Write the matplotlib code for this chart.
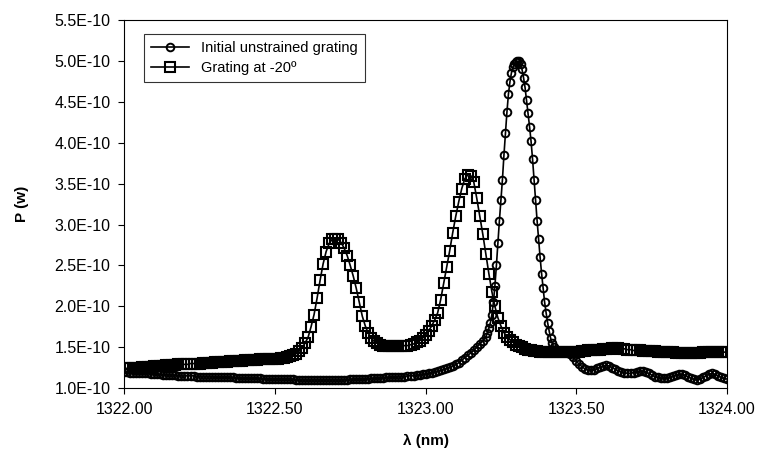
import numpy as np
import matplotlib
matplotlib.use("Agg")
import matplotlib.pyplot as plt
from matplotlib.ticker import FuncFormatter

plt.rcParams['font.family'] = ['Liberation Sans', 'DejaVu Sans']

# Power values below are in units of 1E-10 W
UNIT = 1e-10

# Grating at -20 deg, sampled every 0.01 nm from 1322.00 to 1324.00
wl_strained = np.round(np.arange(1322.00, 1324.005, 0.01), 2)
p_strained = [
    1.24, 1.24, 1.25, 1.25, 1.25, 1.25, 1.26, 1.26, 1.26, 1.26,   # 1322.00
    1.27, 1.27, 1.27, 1.27, 1.28, 1.28, 1.28, 1.28, 1.29, 1.29,   # 1322.10
    1.29, 1.29, 1.30, 1.30, 1.30, 1.30, 1.31, 1.31, 1.31, 1.31,   # 1322.20
    1.32, 1.32, 1.32, 1.32, 1.32, 1.33, 1.33, 1.33, 1.33, 1.33,   # 1322.30
    1.34, 1.34, 1.34, 1.34, 1.34, 1.35, 1.35, 1.35, 1.35, 1.36,   # 1322.40
    1.36, 1.36, 1.37, 1.37, 1.38, 1.39, 1.40, 1.42, 1.45, 1.49,   # 1322.50
    1.55, 1.62, 1.75, 1.90, 2.10, 2.32, 2.52, 2.67, 2.77, 2.82,   # 1322.60
    2.83, 2.82, 2.78, 2.71, 2.62, 2.50, 2.37, 2.22, 2.05, 1.88,   # 1322.70
    1.76, 1.67, 1.61, 1.57, 1.55, 1.53, 1.52, 1.52, 1.51, 1.51,   # 1322.80
    1.51, 1.51, 1.51, 1.52, 1.52, 1.53, 1.54, 1.56, 1.58, 1.61,   # 1322.90
    1.65, 1.70, 1.76, 1.83, 1.92, 2.08, 2.28, 2.48, 2.68, 2.90,   # 1323.00
    3.10, 3.28, 3.44, 3.56, 3.61, 3.60, 3.52, 3.32, 3.10, 2.88,   # 1323.10
    2.64, 2.40, 2.18, 2.00, 1.86, 1.76, 1.68, 1.63, 1.59, 1.56,   # 1323.20
    1.53, 1.51, 1.50, 1.48, 1.47, 1.46, 1.45, 1.45, 1.44, 1.44,   # 1323.30
    1.44, 1.44, 1.44, 1.44, 1.44, 1.44, 1.44, 1.44, 1.44, 1.44,   # 1323.40
    1.44, 1.44, 1.45, 1.45, 1.46, 1.46, 1.47, 1.47, 1.47, 1.48,   # 1323.50
    1.48, 1.48, 1.49, 1.49, 1.49, 1.48, 1.48, 1.47, 1.47, 1.46,   # 1323.60
    1.46, 1.46, 1.45, 1.45, 1.45, 1.45, 1.45, 1.44, 1.44, 1.44,   # 1323.70
    1.44, 1.44, 1.44, 1.43, 1.43, 1.43, 1.43, 1.43, 1.43, 1.43,   # 1323.80
    1.43, 1.43, 1.44, 1.44, 1.44, 1.44, 1.44, 1.44, 1.44, 1.44,   # 1323.90
    1.44,                                                         # 1324.00
]

# Initial unstrained grating: 0.01 nm steps, 0.005 nm steps across the peak
wl_initial = np.concatenate([
    np.round(np.arange(1322.00, 1323.195, 0.01), 2),
    np.round(np.arange(1323.200, 1323.4475, 0.005), 3),
    np.round(np.arange(1323.45, 1324.005, 0.01), 2),
])
p_initial = [
    1.20, 1.20, 1.19, 1.19, 1.19, 1.18, 1.18, 1.18, 1.18, 1.17,   # 1322.00
    1.17, 1.17, 1.17, 1.16, 1.16, 1.16, 1.16, 1.16, 1.15, 1.15,   # 1322.10
    1.15, 1.15, 1.15, 1.15, 1.14, 1.14, 1.14, 1.14, 1.14, 1.14,   # 1322.20
    1.13, 1.13, 1.13, 1.13, 1.13, 1.13, 1.13, 1.12, 1.12, 1.12,   # 1322.30
    1.12, 1.12, 1.12, 1.12, 1.12, 1.12, 1.11, 1.11, 1.11, 1.11,   # 1322.40
    1.11, 1.11, 1.11, 1.11, 1.11, 1.11, 1.11, 1.10, 1.10, 1.10,   # 1322.50
    1.10, 1.10, 1.10, 1.10, 1.10, 1.10, 1.10, 1.10, 1.10, 1.10,   # 1322.60
    1.10, 1.10, 1.10, 1.10, 1.10, 1.11, 1.11, 1.11, 1.11, 1.11,   # 1322.70
    1.11, 1.11, 1.12, 1.12, 1.12, 1.12, 1.12, 1.13, 1.13, 1.13,   # 1322.80
    1.13, 1.14, 1.14, 1.14, 1.15, 1.15, 1.15, 1.16, 1.16, 1.17,   # 1322.90
    1.17, 1.18, 1.19, 1.20, 1.21, 1.22, 1.23, 1.24, 1.26, 1.27,   # 1323.00
    1.29, 1.31, 1.34, 1.37, 1.40, 1.43, 1.46, 1.50, 1.54, 1.58,   # 1323.10
    1.62, 1.68, 1.73, 1.80, 1.90, 2.05, 2.25, 2.50, 2.78, 3.05,   # 1323.200
    3.30, 3.55, 3.85, 4.12, 4.38, 4.60, 4.75, 4.86, 4.93, 4.97,   # 1323.250
    4.99, 5.00, 5.00, 4.97, 4.90, 4.80, 4.68, 4.52, 4.36, 4.20,   # 1323.300
    4.02, 3.80, 3.55, 3.30, 3.05, 2.82, 2.60, 2.40, 2.22, 2.05,   # 1323.350
    1.92, 1.80, 1.70, 1.61, 1.55, 1.50, 1.47, 1.46, 1.45, 1.45,   # 1323.400
    1.45, 1.45, 1.44, 1.42, 1.38, 1.33, 1.29, 1.26, 1.23, 1.22,   # 1323.45
    1.22, 1.22, 1.24, 1.26, 1.27, 1.28, 1.27, 1.25, 1.23, 1.21,   # 1323.55
    1.20, 1.19, 1.18, 1.18, 1.19, 1.20, 1.21, 1.21, 1.20, 1.18,   # 1323.65
    1.16, 1.14, 1.13, 1.12, 1.12, 1.12, 1.13, 1.15, 1.16, 1.17,   # 1323.75
    1.17, 1.16, 1.14, 1.12, 1.11, 1.10, 1.11, 1.13, 1.15, 1.17,   # 1323.85
    1.18, 1.17, 1.15, 1.13, 1.12, 1.11,                           # 1323.95
]

x_ticks = [1322.00, 1322.50, 1323.00, 1323.50, 1324.00]
y_ticks = [1.0, 1.5, 2.0, 2.5, 3.0, 3.5, 4.0, 4.5, 5.0, 5.5]

fig = plt.figure(figsize=(7.62, 4.62), dpi=100)
ax = fig.add_axes([0.163, 0.160, 0.791, 0.796])

ax.plot(wl_initial, np.array(p_initial) * UNIT, color='black', lw=1.2,
        marker='o', markersize=5.5, markerfacecolor='none', markeredgewidth=1.4,
        label='Initial unstrained grating')
ax.plot(wl_strained, np.array(p_strained) * UNIT, color='black', lw=1.2,
        marker='s', markersize=6.5, markerfacecolor='none', markeredgewidth=1.5,
        label='Grating at -20º')

ax.set_xlim(1322.0, 1324.0)
ax.set_ylim(1.0e-10, 5.5e-10)
ax.set_xticks(x_ticks)
ax.set_yticks([v * UNIT for v in y_ticks])
ax.xaxis.set_major_formatter(FuncFormatter(lambda v, p: f'{v:.2f}'))
ax.yaxis.set_major_formatter(FuncFormatter(lambda v, p: f'{v:.1E}'))
ax.tick_params(direction='out', length=4, width=0.8, labelsize=11.5, pad=6)

for s in ax.spines.values():
    s.set_linewidth(0.8)

ax.set_xlabel('λ (nm)', fontsize=11, fontweight='bold', labelpad=12)
ax.set_ylabel('P (w)', fontsize=11, fontweight='bold', labelpad=18)

leg = ax.legend(loc='upper left', bbox_to_anchor=(0.033, 0.963), borderaxespad=0,
                fontsize=10.5, frameon=True, fancybox=False, edgecolor='black',
                handlelength=2.6, borderpad=0.5, labelspacing=0.4)
leg.get_frame().set_linewidth(0.8)

fig.savefig('out.png', dpi=100)
